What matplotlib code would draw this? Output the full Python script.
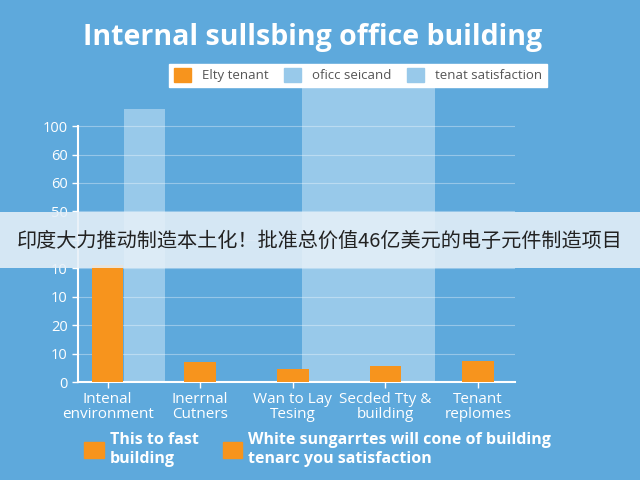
import matplotlib.pyplot as plt
from matplotlib.patches import Patch, Rectangle

categories = ['Intenal\nenvironment', 'Inerrnal\nCutners', 'Wan to Lay\nTesing',
              'Secded Tty &\nbuilding', 'Tenant\nreplomes']
elty_tenant = [41, 7, 4.5, 5.5, 7.5]
office_second = [96, 0, 0, 0, 0]
tenant_sat = [0, 0, 105.5, 0, 0]
ytick_values = [0, 10, 20, 30, 40, 50, 60, 70, 80, 90]
ytick_labels = ['0', '10', '20', '10', '10', '', '50', '60', '60', '100']
series_names = ['Elty tenant', 'oficc seicand', 'tenat satisfaction']
bottom_notes = ['This to fast\nbuilding', 'White sungarrtes will cone of building\ntenarc you satisfaction']
caption = '印度大力推动制造本土化！批准总价值46亿美元的电子元件制造项目'

bg = '#5ea9dc'
light = '#98c9ea'
orange = '#f7941d'

plt.rcParams['font.family'] = ['Open Sans', 'DejaVu Sans']

fig = plt.figure(figsize=(6.4, 4.8), dpi=100)
fig.patch.set_facecolor(bg)
ax = fig.add_axes([78 / 640, 1 - 382 / 480, 437 / 640, 300 / 480])
ax.set_facecolor(bg)

x = list(range(len(categories)))
ax.bar([i + 0.4 for i in x], office_second, width=0.45, color=light, zorder=1)
ax.bar([i + 0.82 for i in x], tenant_sat, width=1.44, color=light, zorder=1)
ax.bar(x, elty_tenant, width=0.34, color=orange, zorder=3)

ax.set_xlim(-0.32, 4.4)
ax.set_ylim(0, 105.5)
ax.set_yticks(ytick_values)
ax.set_yticklabels(ytick_labels)
ax.set_xticks(x)
ax.set_xticklabels(categories, linespacing=1.0)
ax.tick_params(colors='white', labelsize=10.5, length=4, width=1)
ax.tick_params(axis='x', pad=3, labelsize=11)
ax.grid(axis='y', color='white', alpha=0.35, linewidth=0.8, zorder=2)
ax.set_axisbelow(False)
for s in ['top', 'right']:
    ax.spines[s].set_visible(False)
for s in ['left', 'bottom']:
    ax.spines[s].set_color('white')
    ax.spines[s].set_linewidth(1.5)
ax.spines['left'].set_bounds(0, 90)

fig.text(0.488, 1 - 38 / 480, 'Internal sullsbing office building', color='white',
         fontsize=20.5, fontweight='bold', ha='center', va='center')

handles = [Patch(color=orange), Patch(color=light), Patch(color=light)]
leg = fig.legend(handles, series_names, loc='upper center', ncol=3,
                 bbox_to_anchor=(358 / 640, 1 - 57 / 480), fontsize=9.5,
                 frameon=True, fancybox=False, framealpha=1, edgecolor='white',
                 labelcolor='#555555', handlelength=1.3, handleheight=1.2,
                 columnspacing=1.2, borderpad=0.35)

fig.legend([Patch(color=orange), Patch(color=orange)], bottom_notes,
           loc='upper left', bbox_to_anchor=(70 / 640, 1 - 418 / 480), ncol=2,
           frameon=False, labelcolor='white', prop={'weight': 'bold', 'size': 11.5},
           handlelength=1.2, handleheight=1.2, columnspacing=1.5, handletextpad=0.4,
           labelspacing=0.2)

fig.patches.append(Rectangle((0, 1 - 268 / 480), 1, 56 / 480, transform=fig.transFigure,
                             facecolor='#e6f0f8', alpha=0.88, edgecolor='none', zorder=10))
fig.text(0.5, 1 - 241 / 480, caption, fontsize=14.5, color='#222222', ha='center', va='center',
         family=['Noto Sans CJK SC', 'DejaVu Sans'], zorder=11)

fig.savefig('out.png', dpi=100, facecolor=bg)
